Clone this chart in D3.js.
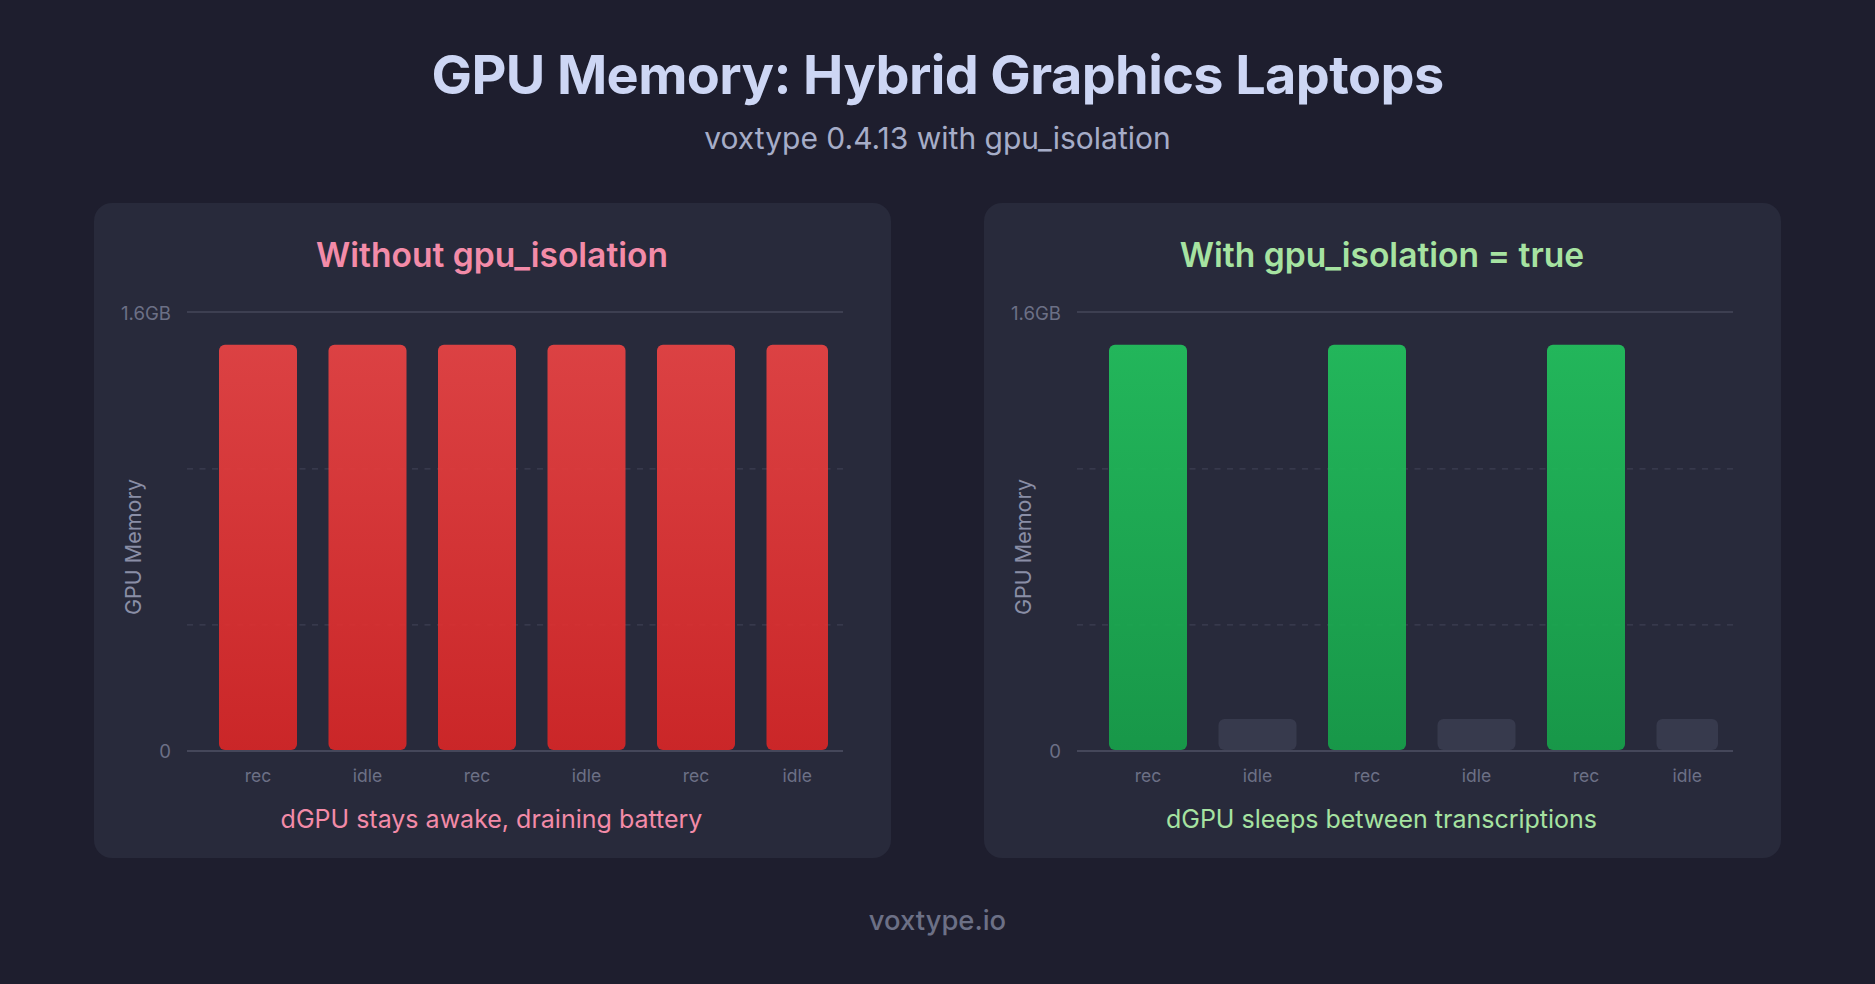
<!DOCTYPE html>
<html><head><meta charset="utf-8">
<script src="https://cdn.jsdelivr.net/npm/d3@7"></script>
<style>
html,body{margin:0;padding:0;background:#1e1e2e;}
svg{display:block;font-family:Inter,"Noto Sans",sans-serif;}
</style></head>
<body>
<script>
const categories = ["rec","idle","rec","idle","rec","idle"];
const withoutValues = [1.48,1.48,1.48,1.48,1.48,1.48];
const withValues = [1.48,0.113,1.48,0.113,1.48,0.113];
const yTickLabels = ["0","1.6GB"];
const yTickValues = [0,1.6];
const gridValues = [0.457,1.027];
const titleText = "GPU Memory: Hybrid Graphics Laptops";
const subtitleText = "voxtype 0.4.13 with gpu_isolation";
const footerText = "voxtype.io";

const W = 1875, H = 984;
const svg = d3.select("body").append("svg").attr("width",W).attr("height",H);
const defs = svg.append("defs");
function grad(id, top, bottom){
  const g = defs.append("linearGradient").attr("id",id).attr("x1",0).attr("y1",0).attr("x2",0).attr("y2",1);
  g.append("stop").attr("offset","0%").attr("stop-color",top);
  g.append("stop").attr("offset","100%").attr("stop-color",bottom);
}
grad("redG","#ef4444","#dc2626");
grad("greenG","#22c55e","#16a34a");

svg.append("rect").attr("width",W).attr("height",H).attr("fill","#1e1e2e");

svg.append("text").attr("x",W/2).attr("y",74).attr("text-anchor","middle")
  .attr("dominant-baseline","central").attr("fill","#cdd6f4")
  .attr("font-size",54).attr("font-weight",700).attr("letter-spacing","-0.6px").text(titleText);
svg.append("text").attr("x",W/2).attr("y",138).attr("text-anchor","middle")
  .attr("dominant-baseline","central").attr("fill","#a6adc8")
  .attr("font-size",30).attr("font-weight",400).text(subtitleText);
svg.append("text").attr("x",W/2).attr("y",920).attr("text-anchor","middle")
  .attr("dominant-baseline","central").attr("fill","#6c7086")
  .attr("font-size",27.4).attr("font-weight",500).text(footerText);

const PW = 797, PH = 655;
const y = d3.scaleLinear().domain([0,1.6]).range([547,109]);
const x = d3.scaleBand().domain(d3.range(categories.length))
  .range([125-15.75, 125-15.75+6*109.5]).paddingInner(31.5/109.5).paddingOuter((31.5/109.5)/2);
const clipRight = 734;

function panel(px, py, title, caption, accent, values, isWith){
  const g = svg.append("g").attr("transform",`translate(${px},${py})`);
  g.append("rect").attr("width",PW).attr("height",PH).attr("rx",18).attr("fill","#282a3b");
  g.append("text").attr("x",PW/2 - 0.5).attr("y",51).attr("text-anchor","middle")
    .attr("dominant-baseline","central").attr("fill",accent)
    .attr("font-size",33.6).attr("font-weight",600).text(title);
  g.append("line").attr("x1",93).attr("x2",749).attr("y1",y(1.6)).attr("y2",y(1.6))
    .attr("stroke","#45475a").attr("stroke-width",1.5);
  g.selectAll(".grid").data(gridValues).join("line")
    .attr("x1",93).attr("x2",749).attr("y1",d=>y(d)).attr("y2",d=>y(d))
    .attr("stroke","#3d3f53").attr("stroke-width",1.2).attr("stroke-dasharray","6,6.5");
  g.selectAll(".yt").data(yTickValues).join("text")
    .attr("x",77).attr("y",d=>y(d)+1).attr("text-anchor","end").attr("dominant-baseline","central")
    .attr("fill","#6c7086").attr("font-size",18.6).text((d,i)=>yTickLabels[i]);
  g.append("text").attr("transform",`translate(39,344) rotate(-90)`)
    .attr("text-anchor","middle").attr("dominant-baseline","central")
    .attr("fill","#8a8ea6").attr("font-size",21.5).text("GPU Memory");
  const bars = values.map((v,i)=>{
    const x0 = x(i);
    const w = Math.min(x.bandwidth(), clipRight - x0);
    return {v,i,x0,w};
  });
  g.selectAll(".bar").data(bars).join("rect")
    .attr("x",d=>d.x0).attr("width",d=>d.w)
    .attr("y",d=>y(d.v)).attr("height",d=>y(0)-y(d.v))
    .attr("rx",6)
    .attr("fill",d=> (isWith && categories[d.i]==="idle") ? "#373a4d" : (isWith ? "url(#greenG)" : "url(#redG)"))
    .attr("fill-opacity",d=> (isWith && categories[d.i]==="idle") ? 1 : 0.9);
  g.append("line").attr("x1",93).attr("x2",749).attr("y1",y(0)+1).attr("y2",y(0)+1)
    .attr("stroke","#45475a").attr("stroke-width",2);
  g.selectAll(".xl").data(bars).join("text")
    .attr("x",d=>d.x0+d.w/2).attr("y",572).attr("text-anchor","middle").attr("dominant-baseline","central")
    .attr("fill","#6c7086").attr("font-size",17.5).text(d=>categories[d.i]);
  g.append("text").attr("x",PW/2 - 1).attr("y",616).attr("text-anchor","middle")
    .attr("dominant-baseline","central").attr("fill",accent)
    .attr("font-size",25).attr("font-weight",400).text(caption);
}
panel(94,203,"Without gpu_isolation","dGPU stays awake, draining battery","#f38ba8",withoutValues,false);
panel(984,203,"With gpu_isolation = true","dGPU sleeps between transcriptions","#a6e3a1",withValues,true);
</script>
</body></html>
